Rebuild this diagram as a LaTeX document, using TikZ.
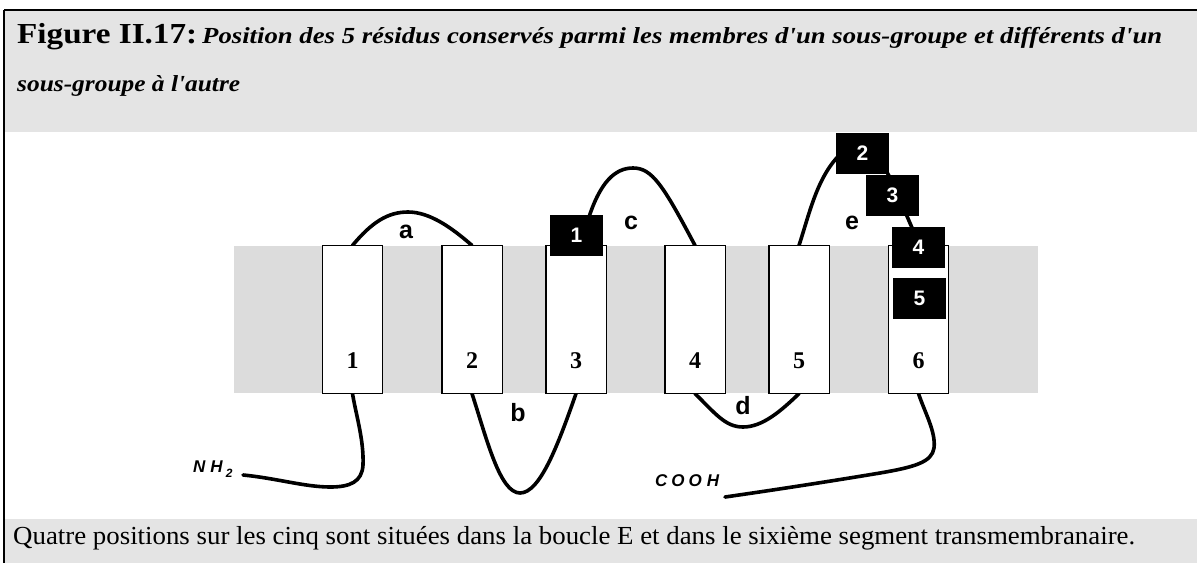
\documentclass[tikz,border=0pt]{standalone}
\usepackage{fontspec}
\usepackage{graphicx}
\setmainfont{Liberation Serif}
\setsansfont{Liberation Sans}
\definecolor{hdrgray}{HTML}{E4E4E4}
\definecolor{memgray}{HTML}{DCDCDC}
\begin{document}
\begin{tikzpicture}[x=1pt,y=-1pt,
  helix/.style={draw=black,fill=white,line width=1.2pt,minimum width=59pt,minimum height=147pt,inner sep=0pt},
  hnum/.style={anchor=base,font=\fontsize{24}{24}\selectfont\bfseries,inner sep=0pt},
  resbox/.style={fill=black,text=white,minimum width=53pt,minimum height=41pt,inner sep=0pt,font=\fontsize{21}{21}\selectfont\sffamily\bfseries},
  looplbl/.style={font=\fontsize{25}{25}\selectfont\sffamily\bfseries,inner sep=0pt},
  chain/.style={line width=3.6pt,line cap=round},
  termlbl/.style={anchor=base west,inner sep=0pt,font=\fontsize{17}{17}\selectfont\sffamily\bfseries\itshape}]
\useasboundingbox (0,0) rectangle (1197,563);
% header and caption backgrounds
\fill[hdrgray] (5,11) rectangle (1197,132);
\fill[hdrgray] (5,519) rectangle (1197,563);
\draw[line width=2pt] (4,10) -- (1197,10);
\draw[line width=2pt] (4,10) -- (4,563);
% title
\node[anchor=base west,inner sep=0pt] (t1) at (17,43) {\resizebox{180pt}{\height}{\fontsize{29}{29}\selectfont\bfseries Figure II.17:}};
\node[anchor=base west,inner sep=0pt] (t2) at (202,43) {\resizebox{960pt}{\height}{\fontsize{23}{23}\selectfont\bfseries\itshape Position des 5 résidus conservés parmi les membres d\textquotesingle un sous-groupe et différents d\textquotesingle un}};
\node[anchor=base west,inner sep=0pt] (t3) at (17,91) {\resizebox{223pt}{\height}{\fontsize{23}{23}\selectfont\bfseries\itshape sous-groupe à l\textquotesingle autre}};
% caption
\node[anchor=base west,inner sep=0pt] (cap) at (13,544) {\resizebox{1122pt}{\height}{\fontsize{26}{26}\selectfont Quatre positions sur les cinq sont situées dans la boucle E et dans le sixième segment transmembranaire.}};
% membrane
\fill[memgray] (234,246) rectangle (1038,393);
% helix nodes (placed first as anchors)
\path node[helix] (h1) at (352.5,319.5) {}
      node[helix] (h2) at (472,319.5) {}
      node[helix] (h3) at (576,319.5) {}
      node[helix] (h4) at (695,319.5) {}
      node[helix] (h5) at (799,319.5) {}
      node[helix] (h6) at (918.5,319.5) {};
% residue boxes positions
\coordinate (b1c) at (576.5,235.5);
\coordinate (b2c) at (862.5,153);
\coordinate (b3c) at (892.5,195.5);
\coordinate (b4c) at (918.5,247);
\coordinate (b5c) at (919.5,298.5);
% terminal labels
\node[termlbl] (nh) at (193,472) {N\kern5pt H\kern3pt\raisebox{-5pt}{\fontsize{12}{12}\selectfont 2}};
\node[termlbl] (cooh) at (655,486) {C\kern4pt O\kern4pt O\kern5pt H};
\coordinate (nhend) at (243,475);
\coordinate (coend) at (725,497);
% chain
\draw[chain] (nhend) .. controls (275,478) and (305,487) .. (330,487)
   .. controls (350,487) and (362,482) .. (363,465)
   .. controls (364,440) and (356,415) .. (h1.south);
\draw[chain] (h1.north) .. controls (372,222) and (388,212) .. (408,212)
   .. controls (430,212) and (452,228) .. (h2.north);
\draw[chain] (h2.south) .. controls (487,440) and (500,493) .. (520,493)
   .. controls (540,493) and (558,445) .. (h3.south);
\draw[chain] (588,220) .. controls (600,182) and (615,168) .. (633,168)
   .. controls (652,168) and (663,185) .. (h4.north);
\draw[chain] (h4.south) .. controls (715,413) and (725,427) .. (743,427)
   .. controls (762,427) and (780,412) .. (h5.south);
\draw[chain] (h5.north) .. controls (810,212) and (818,172) .. (845,150);
\draw[chain] (880,160) -- (897,190);
\draw[chain] (900,200) -- (916,237);
\draw[chain] (h6.south) .. controls (925,413) and (936,432) .. (934,448)
   .. controls (932,462) and (915,467) .. (880,473)
   .. controls (820,483) and (760,492) .. (coend);
% redraw helices on top of chain ends
\foreach \h in {h1,h2,h3,h4,h5,h6}{\draw[line width=1.2pt,fill=white] (\h.south west) rectangle (\h.north east);}
\node[hnum] (n1) at (352.5,368) {1};
\node[hnum] (n2) at (472,368) {2};
\node[hnum] (n3) at (576,368) {3};
\node[hnum] (n4) at (695,368) {4};
\node[hnum] (n5) at (799,368) {5};
\node[hnum] (n6) at (918.5,368) {6};
% residue boxes
\node[resbox] (b1) at (b1c) {1};
\node[resbox] (b2) at (b2c) {2};
\node[resbox] (b3) at (b3c) {3};
\node[resbox] (b4) at (b4c) {4};
\node[resbox] (b5) at (b5c) {5};
% loop labels
\node[looplbl] (la) at (406,232) {a};
\node[looplbl] (lb) at (518,413) {b};
\node[looplbl] (lc) at (631,223) {c};
\node[looplbl] (ld) at (743,406) {d};
\node[looplbl] (le) at (852,223) {e};
\end{tikzpicture}
\end{document}
